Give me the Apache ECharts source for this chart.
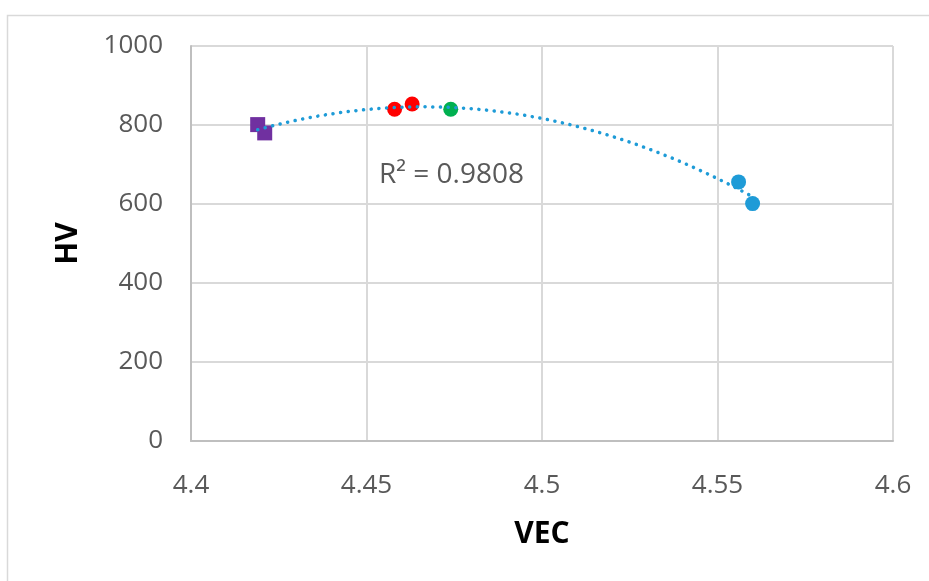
<!DOCTYPE html>
<html>
<head>
<meta charset="utf-8">
<script src="https://cdn.jsdelivr.net/npm/echarts@6/dist/echarts.min.js"></script>
<style>
  html, body { margin: 0; padding: 0; background: #ffffff; }
  #chart { width: 929px; height: 581px; }
</style>
</head>
<body>
<div id="chart"></div>
<script>
// VEC vs. hardness (HV) measurements, grouped by alloy family
const purplePoints = [[4.419, 801], [4.421, 780]];
const redPoints = [[4.458, 840], [4.463, 853]];
const greenPoints = [[4.474, 840]];
const bluePoints = [[4.556, 656], [4.560, 601]];

const xTicks = [4.4, 4.45, 4.5, 4.55, 4.6];
const yTicks = [0, 200, 400, 600, 800, 1000];
const rSquaredText = 'R² = 0.9808';

// Second-order polynomial least-squares fit through all points
function quadraticFit(points) {
  const n = points.length;
  const mx = points.reduce((s, p) => s + p[0], 0) / n;
  let s0 = n, s1 = 0, s2 = 0, s3 = 0, s4 = 0, t0 = 0, t1 = 0, t2 = 0;
  points.forEach(([x, y]) => {
    const u = x - mx;
    s1 += u; s2 += u * u; s3 += u * u * u; s4 += u * u * u * u;
    t0 += y; t1 += u * y; t2 += u * u * y;
  });
  // Solve 3x3 normal equations with Cramer's rule
  const det3 = (m) =>
    m[0][0] * (m[1][1] * m[2][2] - m[1][2] * m[2][1]) -
    m[0][1] * (m[1][0] * m[2][2] - m[1][2] * m[2][0]) +
    m[0][2] * (m[1][0] * m[2][1] - m[1][1] * m[2][0]);
  const A = [[s0, s1, s2], [s1, s2, s3], [s2, s3, s4]];
  const b = [t0, t1, t2];
  const D = det3(A);
  const coef = [0, 1, 2].map((k) => {
    const M = A.map((row, i) => row.map((v, j) => (j === k ? b[i] : v)));
    return det3(M) / D;
  });
  return (x) => coef[0] + coef[1] * (x - mx) + coef[2] * (x - mx) * (x - mx);
}

const allPoints = [].concat(purplePoints, redPoints, greenPoints, bluePoints);
const fit = quadraticFit(allPoints);
const xs = allPoints.map((p) => p[0]);
const xMin = Math.min.apply(null, xs);
const xMax = Math.max.apply(null, xs);
const trendSteps = 80;
const trendLine = [];
for (let i = 0; i <= trendSteps; i++) {
  const x = xMin + (xMax - xMin) * i / trendSteps;
  trendLine.push([x, fit(x)]);
}

const labelFont = '"Open Sans", "Liberation Sans", sans-serif';
const tickColor = '#595959';

// Print tick values exactly as listed, without thousands separators
const tickText = (ticks) => (v) => {
  const t = ticks.find((x) => Math.abs(x - v) < 1e-9);
  return t === undefined ? '' : String(t);
};

const chart = echarts.init(document.getElementById('chart'), null, { renderer: 'canvas' });

chart.setOption({
  animation: false,
  backgroundColor: '#ffffff',
  graphic: [
    {
      type: 'rect',
      left: 5, top: 13,
      shape: { x: 0, y: 0, width: 940, height: 600 },
      style: { fill: 'none', stroke: '#d9d9d9', lineWidth: 1.5 },
      z: -10
    },
    {
      type: 'text',
      left: 379, top: 161,
      style: {
        text: rSquaredText,
        fill: tickColor,
        font: '28px ' + labelFont
      },
      z: 10
    }
  ],
  grid: { left: 191, top: 46, width: 702, height: 395, containLabel: false },
  xAxis: {
    type: 'value',
    min: xTicks[0],
    max: xTicks[xTicks.length - 1],
    interval: 0.05,
    name: 'VEC',
    nameLocation: 'middle',
    nameGap: 78,
    nameTextStyle: { fontSize: 30, fontWeight: 'bold', color: '#000000', fontFamily: labelFont },
    axisLine: { show: true, lineStyle: { color: '#bfbfbf', width: 2 } },
    axisTick: { show: false },
    axisLabel: {
      margin: 32,
      fontSize: 26,
      color: tickColor,
      fontFamily: labelFont,
      formatter: tickText(xTicks)
    },
    splitLine: { show: true, lineStyle: { color: '#d9d9d9', width: 2 } }
  },
  yAxis: {
    type: 'value',
    min: yTicks[0],
    max: yTicks[yTicks.length - 1],
    interval: 200,
    name: 'HV',
    nameLocation: 'middle',
    nameGap: 108,
    nameTextStyle: { fontSize: 30, fontWeight: 'bold', color: '#000000', fontFamily: labelFont },
    axisLine: { show: true, lineStyle: { color: '#bfbfbf', width: 2 } },
    axisTick: { show: false },
    axisLabel: {
      margin: 28,
      fontSize: 26,
      color: tickColor,
      fontFamily: labelFont,
      formatter: tickText(yTicks)
    },
    splitLine: { show: true, lineStyle: { color: '#d9d9d9', width: 2 } }
  },
  series: [
    {
      type: 'scatter', data: purplePoints, symbol: 'rect', symbolSize: 15,
      itemStyle: { color: '#7030a0', opacity: 1 }, z: 3
    },
    {
      type: 'scatter', data: redPoints, symbol: 'circle', symbolSize: 15,
      itemStyle: { color: '#ff0000', opacity: 1 }, z: 3
    },
    {
      type: 'scatter', data: greenPoints, symbol: 'circle', symbolSize: 15,
      itemStyle: { color: '#00b050', opacity: 1 }, z: 3
    },
    {
      type: 'scatter', data: bluePoints, symbol: 'circle', symbolSize: 15,
      itemStyle: { color: '#1e9bd7', opacity: 1 }, z: 3
    },
    {
      type: 'line', data: trendLine, showSymbol: false, smooth: false,
      lineStyle: { color: '#1e9bd7', width: 3.5, type: [0.1, 7.6], cap: 'round' },
      silent: true, z: 5
    }
  ]
});
</script>
</body>
</html>
